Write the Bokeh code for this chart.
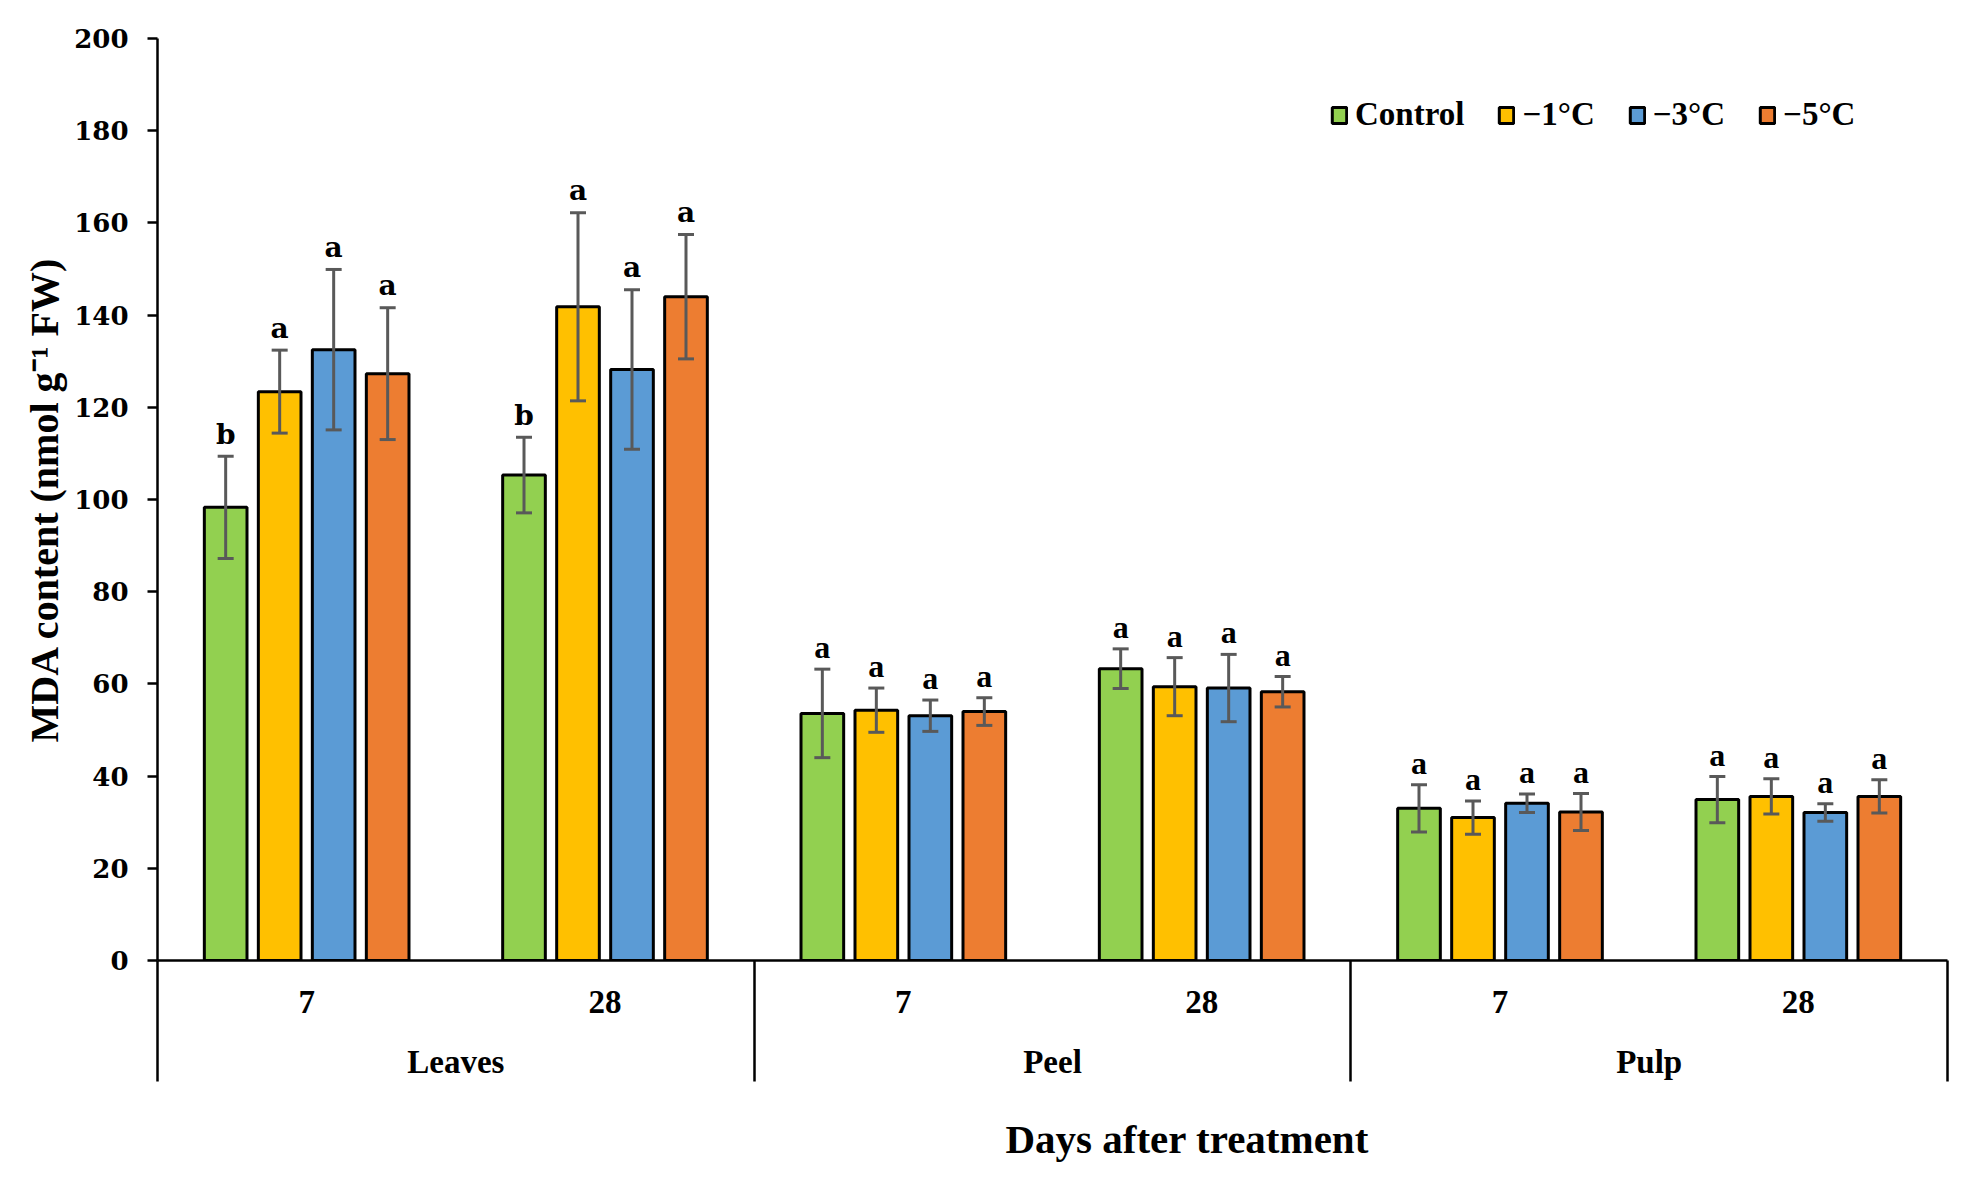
from bokeh.plotting import figure
from bokeh.models import (Range1d, FixedTicker, ColumnDataSource, Whisker, TeeHead,
                          Legend, LegendItem, LinearAxis, Title)
from bokeh.core.properties import field
from bokeh.embed import file_html
from bokeh.resources import INLINE

# ---------------- data ----------------
tissues = ["Leaves", "Peel", "Pulp"]
days = ["7", "28"]
treatments = ["Control", "\u22121\u00b0C", "\u22123\u00b0C", "\u22125\u00b0C"]
colors = ["#92D050", "#FFC000", "#5B9BD5", "#ED7D31"]

# group order: Leaves-7, Leaves-28, Peel-7, Peel-28, Pulp-7, Pulp-28
control_mean = [98.3, 105.3, 53.6, 63.3, 33.0, 34.9]
minus1_mean = [123.4, 141.8, 54.3, 59.4, 31.0, 35.6]
minus3_mean = [132.5, 128.2, 53.1, 59.1, 34.1, 32.1]
minus5_mean = [127.3, 144.0, 54.0, 58.3, 32.2, 35.6]

control_sd = [11.1, 8.2, 9.6, 4.3, 5.1, 5.0]
minus1_sd = [9.0, 20.4, 4.8, 6.3, 3.6, 3.8]
minus3_sd = [17.4, 17.3, 3.4, 7.3, 2.0, 1.9]
minus5_sd = [14.3, 13.5, 3.0, 3.3, 4.0, 3.6]

control_letters = ["b", "b", "a", "a", "a", "a"]
minus1_letters = ["a", "a", "a", "a", "a", "a"]
minus3_letters = ["a", "a", "a", "a", "a", "a"]
minus5_letters = ["a", "a", "a", "a", "a", "a"]

y_ticks = [0, 20, 40, 60, 80, 100, 120, 140, 160, 180, 200]

means = [control_mean, minus1_mean, minus3_mean, minus5_mean]
sds = [control_sd, minus1_sd, minus3_sd, minus5_sd]
letters = [control_letters, minus1_letters, minus3_letters, minus5_letters]

# ---------------- layout ----------------
n_days = len(days)
n_groups = len(tissues) * n_days
step = 0.181
bar_w = 0.143
SERIF = "Liberation Serif"
WIDE = "DejaVu Serif"
SEP_LEN = 121

p = figure(width=1963, height=1192,
           x_range=Range1d(0, n_groups), y_range=Range1d(0, 200),
           output_backend="svg", toolbar_location=None,
           min_border_left=157, min_border_top=38,
           min_border_right=16, min_border_bottom=231,
           outline_line_color=None, background_fill_color="white")
p.xgrid.visible = False
p.ygrid.visible = False

legend_items = []
for k, name in enumerate(treatments):
    xs = [g + 0.5 + (k - 1.5) * step for g in range(n_groups)]
    tissue_of = [tissues[g // n_days] for g in range(n_groups)]
    src = ColumnDataSource(dict(
        x=xs,
        top=means[k],
        upper=[m + s for m, s in zip(means[k], sds[k])],
        lower=[m - s for m, s in zip(means[k], sds[k])],
        letter=letters[k],
        font=[WIDE if t == tissues[0] else SERIF for t in tissue_of],
        fsize=["28px" if t == tissues[0] else "32px" for t in tissue_of],
    ))
    r = p.vbar(x="x", top="top", bottom=0, width=bar_w, source=src,
               fill_color=colors[k], line_color="black", line_width=3)
    legend_items.append(LegendItem(label=name, renderers=[r]))
    w = Whisker(source=src, base="x", upper="upper", lower="lower",
                dimension="height", line_color="#595959", line_width=3,
                upper_head=TeeHead(size=16, line_color="#595959", line_width=3),
                lower_head=TeeHead(size=16, line_color="#595959", line_width=3),
                level="overlay")
    p.add_layout(w)
    p.text(x="x", y="upper", text="letter", source=src,
           text_font=field("font"), text_font_size=field("fsize"),
           text_font_style="bold", text_color="black",
           text_align="center", text_baseline="alphabetic", y_offset=-22)

# y axis
ya = p.yaxis[0]
ya.ticker = FixedTicker(ticks=y_ticks, minor_ticks=[])
ya.axis_line_width = 2.5
ya.axis_line_color = "black"
ya.major_tick_line_width = 2.5
ya.major_tick_line_color = "black"
ya.major_tick_out = 10
ya.major_tick_in = 0
ya.minor_tick_line_color = None
ya.major_label_standoff = 19
ya.major_label_text_font = WIDE
ya.major_label_text_font_style = "bold"
ya.major_label_text_font_size = "26px"
ya.major_label_text_color = "black"
ya.axis_label = "MDA content (nmol g\u207b\u00b9 FW)"
ya.axis_label_text_font = SERIF
ya.axis_label_text_font_style = "bold"
ya.axis_label_text_font_size = "40px"
ya.axis_label_text_color = "black"
ya.axis_label_standoff = 4

# x axis: day labels; minor ticks draw the group separators
xa = p.xaxis[0]
day_pos = [g + 0.5 for g in range(n_groups)]
xa.ticker = FixedTicker(ticks=day_pos,
                        minor_ticks=[i * n_days for i in range(len(tissues) + 1)])
xa.major_label_overrides = {pos: days[g % n_days] for g, pos in enumerate(day_pos)}
xa.axis_line_width = 2.5
xa.axis_line_color = "black"
xa.major_tick_line_color = None
xa.major_tick_out = 0
xa.major_tick_in = 0
xa.minor_tick_out = SEP_LEN
xa.minor_tick_in = 0
xa.minor_tick_line_width = 2.5
xa.minor_tick_line_color = "black"
xa.major_label_standoff = 30 - SEP_LEN
xa.major_label_text_font = SERIF
xa.major_label_text_font_style = "bold"
xa.major_label_text_font_size = "33px"
xa.major_label_text_color = "black"

# second axis: tissue labels
tissue_pos = [i * n_days + n_days / 2 for i in range(len(tissues))]
ta = LinearAxis(ticker=FixedTicker(ticks=tissue_pos, minor_ticks=[]),
                major_label_overrides={pos: t for pos, t in zip(tissue_pos, tissues)},
                axis_line_color=None, major_tick_line_color=None,
                minor_tick_line_color=None, major_tick_out=0, major_tick_in=0,
                major_label_standoff=28, major_label_text_font=SERIF,
                major_label_text_font_style="bold", major_label_text_font_size="33px",
                major_label_text_color="black")
p.add_layout(ta, "below")

# x title
xtitle = Title(text="Days after treatment", align="left", offset=848, standoff=62,
               text_font=SERIF, text_font_style="bold", text_font_size="41px",
               text_color="black")
p.add_layout(xtitle, "below")

legend = Legend(items=legend_items, orientation="horizontal", location=(1173, 827),
                glyph_width=18, glyph_height=20, label_standoff=7, spacing=33,
                padding=0, margin=0, border_line_color=None, background_fill_alpha=0,
                label_text_font=SERIF, label_text_font_style="bold",
                label_text_font_size="33px", label_text_color="black")
p.add_layout(legend)

open("out.html", "w").write(file_html(p, INLINE))
